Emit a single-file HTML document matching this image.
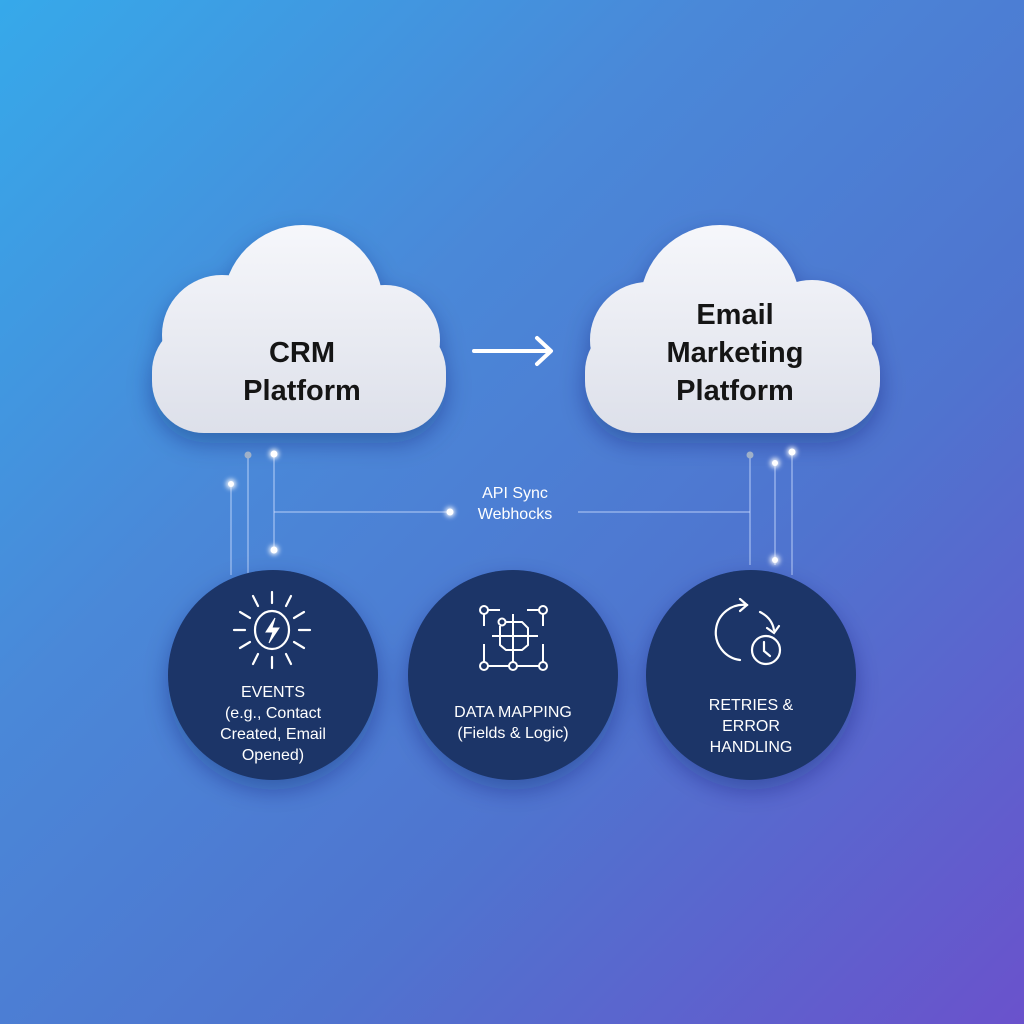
<!DOCTYPE html>
<html><head><style>
html,body{margin:0;padding:0}
body{width:1024px;height:1024px;overflow:hidden;position:relative;font-family:"Liberation Sans",sans-serif;
background:linear-gradient(135deg,#36a9ea 0%,#4a88d8 35%,#4f74cf 65%,#6a52cc 100%);}
svg{position:absolute;left:0;top:0}
.t{position:absolute;text-align:center;color:#fff}
.c{position:absolute;font-weight:bold;color:#151515;text-align:center;font-size:29px;line-height:38px}
</style></head><body>
<svg width="1024" height="1024" viewBox="0 0 1024 1024">
<defs>
<linearGradient id="cg" gradientUnits="userSpaceOnUse" x1="0" y1="225" x2="0" y2="433"><stop offset="0" stop-color="#f6f7fb"/><stop offset="1" stop-color="#dde0ea"/></linearGradient>
<filter id="sh" x="-20%" y="-20%" width="140%" height="150%"><feDropShadow dx="0" dy="10" stdDeviation="12" flood-color="#102060" flood-opacity="0.35"/></filter>
<filter id="gl"><feGaussianBlur stdDeviation="2.5"/></filter>
</defs>
<g filter="url(#sh)" fill="url(#cg)">
<rect x="152" y="320" width="294" height="113" rx="52"/>
<circle cx="303" cy="305" r="80"/>
<circle cx="222" cy="335" r="60"/>
<circle cx="385" cy="340" r="55"/>
</g>
<g filter="url(#sh)" fill="url(#cg)">
<rect x="585" y="320" width="295" height="113" rx="52"/>
<circle cx="720" cy="305" r="80"/>
<circle cx="648" cy="340" r="58"/>
<circle cx="812" cy="340" r="60"/>
</g>
<g stroke="#fff" stroke-width="4" fill="none" stroke-linecap="round" stroke-linejoin="round">
<line x1="474" y1="351" x2="550" y2="351"/><polyline points="537,338 551,351 537,364"/>
</g>
<g stroke="#cfe0ff" stroke-opacity="0.55" stroke-width="1.5" fill="none">
<line x1="231" y1="484" x2="231" y2="575"/>
<line x1="248" y1="455" x2="248" y2="575"/>
<line x1="274" y1="454" x2="274" y2="550"/>
<line x1="274" y1="512" x2="450" y2="512"/>
<line x1="578" y1="512" x2="750" y2="512"/>
<line x1="750" y1="455" x2="750" y2="565"/>
<line x1="775" y1="463" x2="775" y2="565"/>
<line x1="792" y1="452" x2="792" y2="575"/>
</g>
<g fill="#fff">
<g filter="url(#gl)" opacity="0.9"><circle cx="231" cy="484" r="5"/><circle cx="274" cy="454" r="5"/><circle cx="274" cy="550" r="5"/><circle cx="450" cy="512" r="5"/><circle cx="775" cy="463" r="5"/><circle cx="792" cy="452" r="5"/><circle cx="775" cy="560" r="5"/></g>
<circle cx="231" cy="484" r="3"/><circle cx="274" cy="454" r="3.5"/><circle cx="274" cy="550" r="3.5"/><circle cx="450" cy="512" r="3.5"/><circle cx="775" cy="463" r="3"/><circle cx="792" cy="452" r="3.5"/><circle cx="775" cy="560" r="3"/>
<circle cx="248" cy="455" r="3.5" fill="#9fb0c8"/><circle cx="750" cy="455" r="3.5" fill="#9fb0c8"/>
</g>
<g filter="url(#sh)" fill="#1b3468">
<circle cx="273" cy="675" r="105"/>
<circle cx="513" cy="675" r="105"/>
<circle cx="751" cy="675" r="105"/>
</g>
<g stroke="#fff" stroke-width="2.2" fill="none" stroke-linecap="round">
<ellipse cx="272" cy="630" rx="17" ry="19"/>
<path d="M275 618 L266 632 L273 632 L269 643 L279 628 L272 628 Z" fill="#fff" stroke-width="1"/>
<line x1="272" y1="592" x2="272" y2="603"/><line x1="272" y1="657" x2="272" y2="668"/>
<line x1="234" y1="630" x2="245" y2="630"/><line x1="299" y1="630" x2="310" y2="630"/>
<line x1="253" y1="596" x2="258" y2="606"/><line x1="291" y1="596" x2="286" y2="606"/>
<line x1="253" y1="664" x2="258" y2="654"/><line x1="291" y1="664" x2="286" y2="654"/>
<line x1="240" y1="612" x2="250" y2="618"/><line x1="304" y1="612" x2="294" y2="618"/>
<line x1="240" y1="648" x2="250" y2="642"/><line x1="304" y1="648" x2="294" y2="642"/>
</g>
<g stroke="#fff" stroke-width="2" fill="none">
<circle cx="484" cy="610" r="4"/><circle cx="543" cy="610" r="4"/><circle cx="484" cy="666" r="4"/><circle cx="513" cy="666" r="4"/><circle cx="543" cy="666" r="4"/><circle cx="502" cy="622" r="3.5"/>
<line x1="488" y1="610" x2="500" y2="610"/><line x1="527" y1="610" x2="539" y2="610"/>
<line x1="488" y1="666" x2="509" y2="666"/><line x1="517" y1="666" x2="539" y2="666"/>
<line x1="484" y1="614" x2="484" y2="626"/><line x1="484" y1="644" x2="484" y2="662"/>
<line x1="543" y1="614" x2="543" y2="626"/><line x1="543" y1="644" x2="543" y2="662"/>
<path d="M505 622 H522 L528 628 V645 L522 650 H506 L500 645 V626"/>
<line x1="492" y1="636" x2="538" y2="636"/><line x1="513" y1="614" x2="513" y2="662"/>
</g>
<g stroke="#fff" stroke-width="2.2" fill="none" stroke-linecap="round">
<path d="M747 605 A27 27 0 0 0 740 660"/>
<polyline points="740,599 747,605 740,611"/>
<path d="M760 612 Q772 618 774 630"/><polyline points="767,628 774,633 779,626"/>
<circle cx="766" cy="650" r="14"/>
<polyline points="764,642 764,651 770,656"/>
</g>
</svg>
<div class="c" style="left:152px;top:334px;width:300px">CRM<br>Platform</div>
<div class="c" style="left:585px;top:296px;width:300px">Email<br>Marketing<br>Platform</div>
<div class="t" style="left:450px;top:483px;width:130px;font-size:16px;line-height:21px">API Sync<br>Webhocks</div>
<div class="t" style="left:173px;top:682px;width:200px;font-size:16px;line-height:21px">EVENTS<br>(e.g., Contact<br>Created, Email<br>Opened)</div>
<div class="t" style="left:413px;top:702px;width:200px;font-size:16px;line-height:21px">DATA MAPPING<br>(Fields &amp; Logic)</div>
<div class="t" style="left:651px;top:695px;width:200px;font-size:16px;line-height:21px">RETRIES &amp;<br>ERROR<br>HANDLING</div>
</body></html>
